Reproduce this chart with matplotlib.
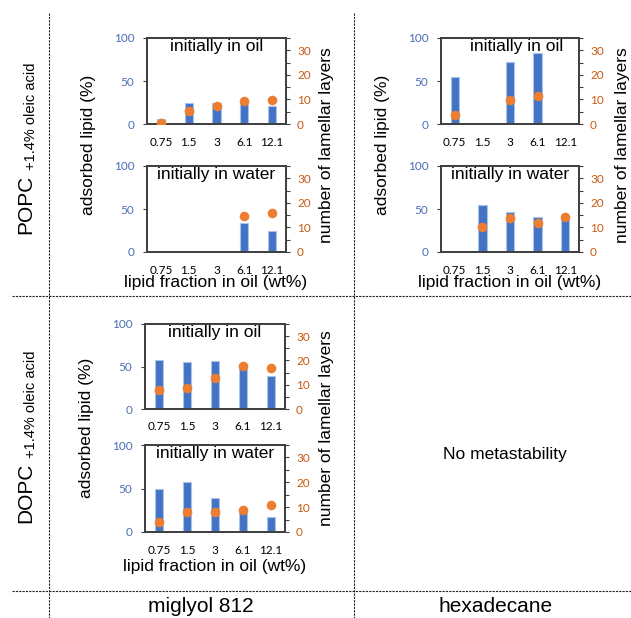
#%% Adsorbed lipid and lamellar layers, POPC / DOPC in miglyol and hexadecane
import numpy as np
import matplotlib.pyplot as plt
from matplotlib.lines import Line2D

# lipid fraction in oil (wt%)
kategorie = ['0.75', '1.5', '3', '6.1', '12.1']

# adsorbed lipid (%) -- bars, nan where no bar
popc_mig_olie = [6, 25, 25, 24, 21]
popc_mig_water = [np.nan, np.nan, np.nan, 34, 25]
popc_hex_olie = [55, np.nan, 72, 83, np.nan]
popc_hex_water = [np.nan, 55, 47, 41, 38]
dopc_mig_olie = [58, 55, 56, 53, 39]
dopc_mig_water = [50, 58, 39, 25, 17]

# number of lamellar layers -- dots
lae_popc_mig_olie = [0.3, 5.2, 7.5, 9.2, 9.9]
lae_popc_mig_water = [np.nan, np.nan, np.nan, 14.7, 16.0]
lae_popc_hex_olie = [3.8, np.nan, 9.6, 11.4, np.nan]
lae_popc_hex_water = [np.nan, 10.2, 13.7, 11.9, 14.1]
lae_dopc_mig_olie = [7.7, 8.6, 12.6, 17.8, 16.7]
lae_dopc_mig_water = [4.0, 8.1, 8.1, 8.8, 10.8]

blou = '#4472C4'
oranje = '#ED7D31'
blou_teks = '#4A6FB5'
oranje_teks = '#C55A11'
rand = '#404040'

W, H = 631, 618
fig = plt.figure(figsize=(W / 100, H / 100), dpi=100)
plt.rcParams['font.family'] = ['Liberation Sans', 'DejaVu Sans']


def paneel(x0, y0, x1, y1, bars, dots, titel, titel_x=0.5):
    # pixel box -> figure fraction
    ax = fig.add_axes([x0 / W, 1 - y1 / H, (x1 - x0) / W, (y1 - y0) / H])
    x = np.arange(len(kategorie))
    ax.bar(x, bars, width=0.3, color=blou, edgecolor='#A9C4EB', linewidth=0.8)
    ax.set_xlim(-0.5, len(kategorie) - 0.5)
    ax.set_ylim(0, 100)
    ax.set_yticks([0, 50, 100])
    ax.set_xticks(x)
    ax.set_xticklabels(kategorie, family='Lato', fontsize=8.5)
    ax.tick_params(axis='x', length=0, pad=9)
    ax.tick_params(axis='y', length=3, color=rand, labelcolor=blou_teks,
                   labelsize=8.5, pad=6)
    for lbl in ax.get_yticklabels():
        lbl.set_family('Lato')
    ax.text(titel_x, 0.985, titel, transform=ax.transAxes, ha='center',
            va='top', fontsize=12.5)

    ax2 = ax.twinx()
    ax2.scatter(x, dots, s=48, color=oranje, zorder=3, linewidths=0)
    ax2.set_ylim(0, 35)
    ax2.set_yticks(range(0, 36, 5))
    ax2.set_yticklabels(['0', '', '10', '', '20', '', '30', ''],
                        family='Lato')
    ax2.tick_params(axis='y', length=3, color=rand, labelcolor=oranje_teks,
                    labelsize=8.5, pad=5)
    for a in (ax, ax2):
        for s in a.spines.values():
            s.set_color(rand)
            s.set_linewidth(1.3)
    return ax, ax2


# miglyol 812, POPC
paneel(147, 38, 286, 124, popc_mig_olie, lae_popc_mig_olie, 'initially in oil')
paneel(147, 166, 286, 252, popc_mig_water, lae_popc_mig_water, 'initially in water')
# hexadecane, POPC
paneel(441, 38, 579, 124, popc_hex_olie, lae_popc_hex_olie, 'initially in oil', 0.55)
paneel(441, 166, 579, 252, popc_hex_water, lae_popc_hex_water, 'initially in water')
# miglyol 812, DOPC
paneel(145, 324, 285, 409, dopc_mig_olie, lae_dopc_mig_olie, 'initially in oil')
paneel(145, 445, 285, 532, dopc_mig_water, lae_dopc_mig_water, 'initially in water')


def teks(x, y, s, **kw):
    fig.text(x / W, 1 - y / H, s, ha='center', va='center', **kw)


# as byskrifte
for xl, xr, xm, y_mid, y_bot in [(88, 327, 216, 145, 283),
                                 (383, 622, 510, 145, 283),
                                 (86, 326, 215, 428, 566)]:
    teks(xl, y_mid, 'adsorbed lipid (%)', rotation=90, fontsize=12.5)
    teks(xr, y_mid, 'number of lamellar layers', rotation=90, fontsize=12.5)
    teks(xm, y_bot, 'lipid fraction in oil (wt%)', fontsize=12.5)

# ry name: groot naam onder, klein byvoegsel direk bo
renderer = fig.canvas.get_renderer()
for y_naam, naam in [(234, 'POPC'), (523, 'DOPC')]:
    t = fig.text(26 / W, 1 - y_naam / H, naam, rotation=90, ha='center',
                 va='bottom', fontsize=15)
    bo = t.get_window_extent(renderer).y1  # pixels from bottom
    fig.text(31 / W, (bo + 5) / H, '+1.4% oleic acid', rotation=90,
             ha='center', va='bottom', fontsize=10.5)

teks(201, 606, 'miglyol 812', fontsize=15)
teks(496, 606, 'hexadecane', fontsize=15)
teks(505, 455, 'No metastability', fontsize=12.5)

# stippel roosterlyne
stip = dict(color='#222222', linewidth=0.8, linestyle=(0, (2, 1)))
for x in (49, 354):
    fig.add_artist(Line2D([x / W, x / W], [1 - 13 / H, 0], **stip))
for y in (296, 591):
    fig.add_artist(Line2D([12 / W, 1], [1 - y / H, 1 - y / H], **stip))

fig.savefig('out.png', dpi=100)
